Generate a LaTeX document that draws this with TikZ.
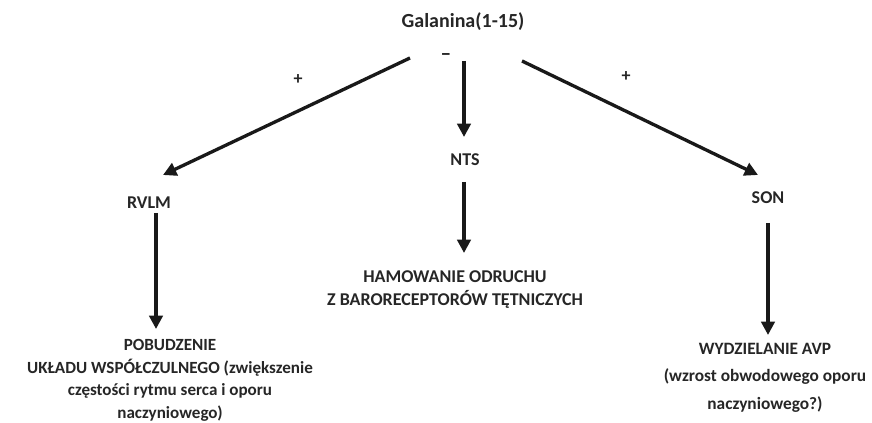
\documentclass[tikz,border=0pt]{standalone}
\usepackage{fontspec}
\setmainfont{Carlito}
\usetikzlibrary{positioning, arrows.meta}

\begin{document}
\begin{tikzpicture}[
  x=0.75pt, y=-0.75pt,
  font=\fontsize{13.5}{17.5}\selectfont\bfseries, >={Triangle[length=10pt, width=10pt]},
  lbl/.style={text=black!85, align=center, inner sep=0pt},
  sgn/.style={text=black!85, inner sep=0pt},
  arr/.style={->, line width=2.5pt, draw=black!90},
]
  \useasboundingbox (0,0) rectangle (872,423);
  % labels
  \node[lbl, font=\fontsize{15}{18}\selectfont\bfseries] (gal) at (463,22) {Galanina(1-15)};
  \node[lbl] (rvlm) at (149,203) {RVLM};
  \node[lbl] (nts) at (465,160) {NTS};
  \node[lbl] (son) at (768,198) {SON};
  \node[lbl, anchor=north, font=\fontsize{12.8}{17}\selectfont\bfseries] (pob) at (170,339) {POBUDZENIE\\
    UKŁADU WSPÓŁCZULNEGO (zwiększenie\\ częstości rytmu serca i oporu\\ naczyniowego)};
  \node[lbl, anchor=north] (ham) at (455,270) {HAMOWANIE ODRUCHU\\ Z BARORECEPTORÓW TĘTNICZYCH};
  \node[lbl, anchor=north, font=\fontsize{13}{17.5}\selectfont\bfseries] (avp) at (765,343) {WYDZIELANIE AVP\\[3pt]
    (wzrost obwodowego oporu\\[3pt] naczyniowego?)};
  % arrow ends
  \coordinate (galL) at (410,58);
  \coordinate (galM) at (464,61);
  \coordinate (galR) at (522,61);
  \coordinate (rvlmIn) at (163,175);
  \coordinate (ntsIn) at (464,137);
  \coordinate (sonIn) at (758,175);
  \coordinate (rvlmOut) at (156,213);
  \coordinate (pobIn) at (156,329);
  \coordinate (ntsOut) at (464,182);
  \coordinate (hamIn) at (464,253);
  \coordinate (sonOut) at (768,223);
  \coordinate (avpIn) at (768,335);
  % connectors
  \draw[arr] (galL) -- (rvlmIn);
  \draw[arr] (galM) -- (ntsIn);
  \draw[arr] (galR) -- (sonIn);
  \draw[arr] (rvlmOut) -- (pobIn);
  \draw[arr] (ntsOut) -- (hamIn);
  \draw[arr] (sonOut) -- (avpIn);
  % signs
  \node[sgn] (pl) at (298,80) {+};
  \node[sgn, font=\fontsize{16}{18}\selectfont\bfseries] (mi) at (446,57) {–};
  \node[sgn] (pr) at (626,77) {+};
\end{tikzpicture}
\end{document}
